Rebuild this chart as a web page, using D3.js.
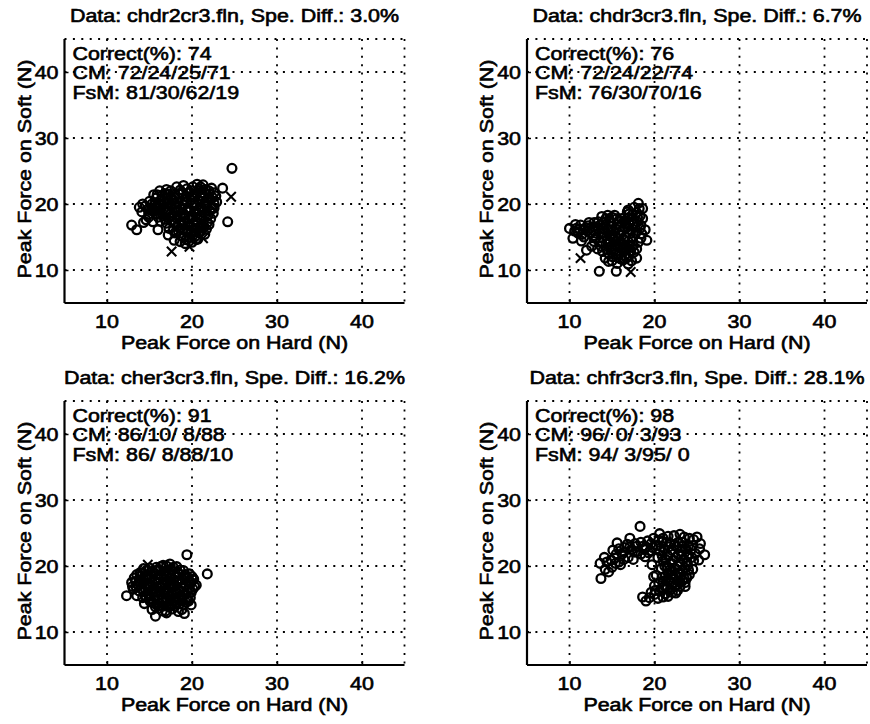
<!DOCTYPE html>
<html>
<head>
<meta charset="utf-8">
<script src="https://cdn.jsdelivr.net/npm/d3@7"></script>
<style>
  html, body { margin: 0; padding: 0; background: #fff; }
  svg text { font-family: "Liberation Sans", Arial, Helvetica, sans-serif; white-space: pre; fill: #000; }
</style>
</head>
<body>
<svg id="chart" width="870" height="724"></svg>
<script>
// ---------------- data ----------------
const titles = [
  "Data: chdr2cr3.fln, Spe. Diff.: 3.0%",
  "Data: chdr3cr3.fln, Spe. Diff.: 6.7%",
  "Data: cher3cr3.fln, Spe. Diff.: 16.2%",
  "Data: chfr3cr3.fln, Spe. Diff.: 28.1%"
];
const correctPct = ["74", "76", "91", "98"];
const cmValues = ["72/24/25/71", "72/24/22/74", "86/10/ 8/88", "96/ 0/ 3/93"];
const fsmValues = ["81/30/62/19", "76/30/70/16", "86/ 8/88/10", "94/ 3/95/ 0"];
const xLabel = "Peak Force on Hard (N)";
const yLabel = "Peak Force on Soft (N)";
const tickValues = [10, 20, 30, 40];
const axisDomain = [5, 45];

// panel 1 (chdr2cr3)
const p1Circles = [
  [16.8,21.6],[17.5,22.0],[18.6,22.1],[19.4,22.3],[20.1,22.6],[20.8,22.3],[21.6,22.2],[22.3,22.4],[23.6,22.4],
  [15.8,20.9],[16.5,21.3],[17.2,21.5],[18.0,21.4],[18.9,21.6],[19.7,21.8],[20.5,21.6],[21.2,21.7],[22.0,21.5],[22.8,21.2],
  [14.2,20.0],[15.0,20.4],[15.7,20.2],[16.4,20.6],[17.1,20.8],[17.8,20.5],[18.5,20.9],[19.2,20.7],[20.0,21.0],[20.7,20.6],[21.4,20.9],[22.2,20.6],[22.9,20.3],
  [13.8,19.5],[14.5,19.7],[15.3,19.4],[16.0,19.6],[16.7,19.3],[17.5,19.8],[18.2,19.5],[18.9,19.9],[19.6,19.4],[20.3,19.8],[21.0,19.5],[21.7,19.9],[22.4,19.3],
  [14.1,18.8],[14.9,18.5],[15.6,18.9],[16.3,18.4],[17.0,18.7],[17.7,18.3],[18.4,18.8],[19.1,18.4],[19.8,18.9],[20.5,18.5],[21.2,18.8],[21.9,18.3],[22.5,18.6],
  [14.6,17.6],[15.4,17.3],[16.8,17.7],[17.6,17.4],[18.3,17.8],[19.0,17.3],[19.7,17.7],[20.4,17.4],[21.1,17.8],[21.8,17.2],
  [12.9,16.8],[13.5,16.1],[14.3,17.2],[16.0,16.1],[17.3,16.3],[18.2,16.6],[18.9,16.2],[19.6,16.7],[20.3,16.3],[21.0,16.6],[21.7,16.2],
  [17.2,15.3],[18.0,15.6],[18.7,15.2],[19.4,15.7],[20.1,15.3],[20.8,15.6],[21.5,15.4],
  [17.9,14.5],[18.6,14.3],[19.3,14.6],[20.0,14.2],[20.7,14.7],
  [15.2,19.0],[16.1,20.0],[17.3,20.2],[18.0,20.0],[18.7,19.2],[19.4,20.3],[20.1,20.2],[20.8,19.1],[21.5,19.3],
  [19.2,17.9],[20.0,18.2],[20.7,17.1],[19.5,16.0],[18.4,15.9],[20.4,15.1],[21.3,17.0],[19.9,22.0],[21.0,21.2],[17.9,21.0],[16.0,18.0],
  [15.5,21.4],[16.2,22.0],[18.2,22.6],[19.0,22.8],[20.6,23.0],[21.3,22.9],[22.0,22.0],[16.8,20.2],[18.2,20.3],[19.9,20.6],
  [21.8,20.3],[15.6,19.9],[14.8,19.2],[17.2,19.0],[18.6,18.1],[20.3,18.9],[21.6,18.5],[22.2,17.8],[17.3,17.9],[18.8,17.0],
  [20.2,16.9],[21.4,16.5],[19.0,15.0],[20.5,14.6],[19.7,14.9],[17.8,16.0],[22.4,21.0],[15.8,18.5],[14.9,18.0],
  [15.3,20.0],[16.6,19.8],[17.6,20.8],[18.4,21.6],[19.3,21.2],[20.3,21.3],[21.1,21.2],[21.9,20.9],[22.6,20.0],[16.3,19.1],
  [17.9,19.1],[19.4,19.1],[21.1,18.3],[22.1,19.0],[17.5,18.6],[18.9,18.6],[20.6,18.0],[18.0,17.2],[19.5,17.0],[20.9,16.3],
  [18.6,16.3],[19.9,15.6],[21.1,15.9],[19.2,14.0],[20.3,15.9],[22.0,16.9],[16.3,17.4],[17.0,17.1],[15.9,21.4],[17.0,22.2],
  [21.0,22.6],[22.6,21.7],
  [24.7,25.4],[24.2,17.3],[22.6,19.4]
];
const p1Crosses = [
  [17.6,12.8],[19.7,13.5],[21.3,14.8],[24.6,21.1],
  [18.5,18.0],[20.0,19.0],[17.0,19.5],[21.0,20.0],[19.0,16.5],[16.5,18.8]
];

// panel 2 (chdr3cr3)
const p2Circles = [
  [10.0,16.3],[10.4,14.8],[10.7,16.9],[11.0,15.6],[11.3,16.8],[11.7,15.0],[11.9,16.4],[12.3,17.2],[12.5,15.7],[12.9,16.6],
  [13.1,14.9],[13.4,17.3],[10.6,15.9],[11.4,14.4],[12.0,13.0],[12.6,13.6],[13.3,13.2],
  [13.8,18.1],[14.5,18.3],[14.2,16.8],[14.8,17.4],[15.3,18.3],[15.6,16.9],[16.1,17.8],[16.8,18.8],[16.5,16.4],[17.3,17.6],
  [17.9,18.7],[18.1,20.1],[16.9,19.1],[14.0,15.6],[14.7,15.2],[15.2,15.9],[15.9,15.3],[16.6,15.1],[17.2,16.0],[17.8,15.6],
  [18.4,16.8],[18.9,16.1],[19.1,14.5],[18.6,17.8],[18.2,19.3],[17.6,19.5],
  [13.6,14.2],[14.3,14.0],[14.9,13.6],[15.5,14.4],[16.2,13.9],[16.9,14.3],[17.5,13.7],[18.1,14.2],
  [14.6,12.5],[15.2,12.9],[15.8,12.3],[16.4,12.8],[17.0,12.2],[17.6,12.7],[17.9,11.8],
  [15.0,11.4],[15.6,11.0],[16.3,11.5],[16.9,10.9],[14.2,11.8],[13.9,12.8],
  [14.0,17.2],[15.0,16.6],[16.0,16.6],[17.0,17.0],[18.0,17.3],[15.4,15.1],[16.4,14.6],[17.4,14.9],
  [14.4,13.1],[15.7,13.4],[16.7,13.3],[12.8,15.2],[11.6,16.1],
  [11.2,16.2],[12.1,15.9],[12.8,16.0],[13.5,15.7],[13.9,16.3],[12.2,16.7],[14.6,16.1],[15.8,17.4],[16.9,17.9],[17.7,16.5],
  [18.3,18.2],[16.2,16.0],[17.1,15.5],[18.5,15.5],[15.1,14.8],[16.0,14.3],[17.0,13.8],[17.9,13.2],[15.4,13.8],[16.5,12.2],
  [15.1,12.0],[16.0,11.7],[17.3,11.4],[13.4,16.3],[14.4,14.6],[18.6,19.3],
  [10.8,16.3],[11.5,15.4],[12.4,16.3],[12.9,17.2],[13.6,16.8],[14.3,17.8],[15.0,18.0],[15.6,17.8],[16.4,17.4],[17.4,18.4],
  [18.0,18.0],[17.0,18.5],[15.5,16.2],[16.8,16.5],[17.6,17.0],[18.3,16.3],[14.8,14.2],[15.8,14.7],[16.6,13.7],[17.4,14.3],
  [18.4,14.8],[15.0,13.2],[16.2,13.2],[17.2,12.9],[15.4,12.4],[16.7,11.8],[14.6,11.3],[13.7,13.6],[12.9,14.3],[13.9,14.9],
  [13.5,9.8],[15.5,9.8]
];
const p2Crosses = [
  [17.2,9.7],[11.3,11.8],
  [15.0,15.5],[16.5,17.0],[14.0,16.5],[17.5,18.0]
];

// panel 3 (cher3cr3)
const p3Circles = [
  [15.8,19.8],[16.6,20.1],[17.4,20.3],[18.2,19.9],
  [13.9,19.0],[14.6,19.3],[15.3,19.1],[16.0,19.4],[16.8,19.2],[17.5,19.5],[18.3,19.1],[19.0,19.3],[19.7,18.8],
  [13.2,18.2],[13.9,18.5],[14.6,18.1],[15.3,18.4],[16.0,18.0],[16.7,18.5],[17.4,18.1],[18.1,18.4],[18.8,18.0],[19.5,18.3],[20.2,18.0],
  [12.9,17.5],[13.6,17.2],[14.3,17.6],[15.0,17.3],[15.7,17.7],[16.4,17.2],[17.1,17.6],[17.8,17.3],[18.5,17.7],[19.2,17.2],[19.9,17.5],[20.5,17.1],
  [13.1,16.5],[13.8,16.2],[14.5,16.6],[15.2,16.3],[15.9,16.7],[16.6,16.2],[17.3,16.6],[18.0,16.3],[18.7,16.7],[19.4,16.2],[20.1,16.5],
  [13.5,15.5],[14.2,15.2],[14.9,15.6],[15.6,15.3],[16.3,15.7],[17.0,15.2],[17.7,15.6],[18.4,15.3],[19.1,15.6],[19.8,15.2],
  [14.4,14.3],[15.1,14.6],[15.8,14.2],[16.5,14.5],[17.2,14.1],[17.9,14.6],[18.6,14.3],[19.3,14.5],[19.9,14.1],
  [15.3,13.4],[16.1,13.6],[16.9,13.2],[17.7,13.5],[18.4,13.1],[19.1,12.8],
  [14.0,17.9],[15.5,18.9],[17.0,18.7],[18.5,18.8],[14.8,16.9],[16.2,16.9],[17.6,16.9],[19.0,16.9],[15.4,15.9],[16.8,15.9],
  [18.2,15.9],[16.0,14.9],[17.4,14.9],[18.8,14.9],[17.0,20.0],[13.4,16.9],[20.3,16.9],[16.5,13.9],[18.0,13.9],
  [14.3,19.6],[15.0,19.7],[16.3,19.9],[17.8,19.8],[13.5,18.7],[15.0,18.0],[16.4,18.6],[17.8,18.0],[19.2,18.7],[13.4,17.7],
  [14.7,17.1],[16.0,17.4],[17.4,17.2],[18.8,17.4],[20.1,17.9],[14.0,16.6],[15.5,16.5],[17.0,16.4],[18.4,16.5],[19.7,16.6],
  [14.6,15.3],[16.0,15.5],[17.4,15.5],[18.8,15.3],[15.5,14.4],[16.9,14.5],[18.3,14.5],[19.6,14.7],[16.5,13.2],[17.3,13.8],
  [18.8,13.4],[15.7,13.8],
  [14.2,18.9],[15.7,19.3],[17.2,19.0],[18.6,19.4],[13.8,17.6],[15.3,17.6],[16.8,17.9],[18.2,17.6],[19.6,17.8],[14.3,16.1],
  [15.8,16.1],[17.2,16.0],[18.6,16.1],[19.9,16.0],[15.0,15.0],[16.5,15.0],[18.0,15.1],[19.4,15.0],[16.1,14.0],[17.6,14.2],
  [19.0,14.1],[17.0,12.9],[14.7,18.6],[13.0,16.9],[20.0,18.4],
  [19.4,21.7],[21.8,18.8],[12.3,15.5],[15.7,12.4]
];
const p3Crosses = [
  [14.8,20.2],[16.0,17.0],[17.5,18.0],[15.0,16.0],[18.0,15.5]
];

// panel 4 (chfr3cr3)
const p4Circles = [
  [13.6,20.4],[13.7,18.1],[14.6,19.1],[14.4,20.6],[15.0,19.8],[15.3,21.2],[15.1,22.4],[15.6,23.5],[15.8,20.6],[16.2,21.8],
  [16.5,22.8],[16.9,21.3],[17.1,24.2],[17.3,22.5],[17.7,23.4],[18.0,22.2],[18.3,26.0],[18.4,23.6],[18.8,22.5],[19.2,23.8],
  [19.5,22.3],[19.9,24.2],[20.2,23.1],[20.6,24.9],[20.9,23.8],[21.2,22.6],[21.6,24.5],[21.9,23.4],[22.3,24.6],[22.6,22.9],
  [23.0,24.8],[23.3,23.6],[23.7,22.6],[24.1,24.2],[24.5,23.1],[25.0,24.4],[25.3,22.6],[25.9,21.7],[16.0,20.2],[17.5,21.0],
  [18.9,21.4],[14.1,21.3],
  [19.7,20.2],[20.4,21.3],[21.0,20.8],[21.6,21.5],[22.2,20.9],[22.8,21.7],[23.4,21.0],[24.0,21.6],[24.6,20.8],[25.2,20.9],
  [20.8,19.6],[21.5,19.9],[22.1,19.3],[22.7,20.0],[23.3,19.4],[23.9,20.1],[24.5,19.5],
  [20.2,18.6],[20.9,18.3],[21.6,18.9],[22.2,18.2],[22.9,18.8],[23.5,18.1],[24.1,18.7],[19.9,18.4],
  [20.5,17.4],[21.2,17.0],[21.8,17.6],[22.4,16.9],[23.0,17.5],[23.6,16.9],
  [20.6,16.2],[21.3,15.8],[21.9,16.4],[22.5,15.9],[23.0,16.9],[18.6,15.3],[19.0,14.7],[20.4,15.1],[19.6,16.0],[20.0,17.0],
  [14.2,19.5],[15.4,20.4],[16.4,21.0],[15.8,22.6],[16.8,23.3],[17.7,22.1],[18.4,21.8],[19.0,22.9],[19.6,23.4],[20.6,22.3],
  [20.5,23.9],[21.4,23.6],[22.0,22.4],[22.8,23.6],[23.5,24.4],[24.3,22.5],[24.8,21.9],[23.1,22.2],[21.3,21.0],[22.5,21.3],
  [23.8,20.6],[21.2,20.0],[22.4,19.7],[23.6,19.7],[21.3,18.5],[22.5,18.6],[23.8,18.2],[21.0,17.7],[22.2,17.4],[23.3,17.8],
  [21.5,16.6],[22.7,16.3],[20.0,15.7],[19.4,15.2],[21.0,15.3],
  [14.9,20.9],[15.5,21.8],[16.4,22.1],[17.1,22.9],[17.9,23.0],[18.6,23.0],[19.3,22.0],[19.8,22.8],[21.0,24.2],[21.7,22.9],
  [22.4,23.2],[23.2,23.0],[24.0,23.1],[24.6,24.0],[25.4,23.4],[24.4,21.3],[23.0,20.5],[22.0,20.4],[20.9,21.6],[23.2,21.5],
  [21.8,19.4],[23.0,19.0],[24.0,19.4],[22.0,18.7],[23.1,18.3],[21.6,17.9],[22.7,17.8],[20.9,16.7],[22.1,16.0],[23.6,17.5],
  [20.1,16.3],[21.6,15.4]
];
const p4Crosses = [
  [22.0,19.0],[21.0,23.0]
];

const circleSets = [p1Circles, p2Circles, p3Circles, p4Circles];
const crossSets = [p1Crosses, p2Crosses, p3Crosses, p4Crosses];

// ---------------- layout ----------------
const panelLeft = [64.5, 527, 64.5, 527];
const panelBottom = [303, 303, 665, 665];
const plotW = 340, plotH = 264;
const fontSize = 18, stretch = 1.19;
const dotDash = "2,6.4";

const svg = d3.select("#chart");

function addText(g, str, x, y, anchor, rotate) {
  return g.append("text")
    .attr("transform", `translate(${x},${y})` + (rotate ? ` rotate(${rotate})` : "") + ` scale(${stretch},1)`)
    .attr("text-anchor", anchor)
    .attr("font-size", fontSize)
    .attr("stroke", "#000")
    .attr("stroke-width", 0.6)
    .text(str);
}

function dotted(g, x1, y1, x2, y2) {
  g.append("line").attr("x1", x1).attr("y1", y1).attr("x2", x2).attr("y2", y2)
    .attr("stroke", "#000").attr("stroke-width", 1.8).attr("stroke-dasharray", dotDash);
}

for (let i = 0; i < 4; i++) {
  const L = panelLeft[i], B = panelBottom[i];
  const x = d3.scaleLinear().domain(axisDomain).range([L, L + plotW]);
  const y = d3.scaleLinear().domain(axisDomain).range([B, B - plotH]);
  const g = svg.append("g");

  // dotted grid + dotted top/right frame
  const gridG = g.append("g");
  tickValues.forEach(v => {
    dotted(gridG, x(v), y(axisDomain[1]), x(v), y(axisDomain[0]));
    dotted(gridG, x(axisDomain[0]), y(v), x(axisDomain[1]), y(v));
  });
  dotted(gridG, x(axisDomain[0]), y(axisDomain[1]), x(axisDomain[1]), y(axisDomain[1]));
  dotted(gridG, x(axisDomain[1]), y(axisDomain[1]), x(axisDomain[1]), y(axisDomain[0]));

  // axes
  const xAxis = d3.axisBottom(x).tickValues(tickValues).tickSize(-4).tickFormat("");
  const yAxis = d3.axisLeft(y).tickValues(tickValues).tickSize(-4).tickFormat("");
  const gx = g.append("g").attr("transform", `translate(0,${B})`).call(xAxis);
  const gy = g.append("g").attr("transform", `translate(${L},0)`).call(yAxis);
  [gx, gy].forEach(a => {
    a.select(".domain").attr("stroke", "#000").attr("stroke-width", 2.2);
    a.selectAll(".tick line").attr("stroke", "#000").attr("stroke-width", 1.5);
  });
  gx.select(".domain").attr("d", `M${L},0H${L + plotW}`);
  gy.select(".domain").attr("d", `M0,${B}V${B - plotH}`);

  // tick labels
  tickValues.forEach(v => {
    addText(g, String(v), x(v), B + 25, "middle");
    addText(g, String(v), L - 6, y(v) + 6.5, "end");
  });

  // axis titles
  addText(g, xLabel, L + plotW / 2, B + 46, "middle");
  addText(g, yLabel, L - 34, B - plotH / 2 - 2, "middle", -90);

  // panel title
  addText(g, titles[i], L + plotW / 2, B - plotH - 17, "middle");

  // markers
  const mg = g.append("g");
  mg.selectAll("circle").data(circleSets[i]).join("circle")
    .attr("cx", d => x(d[0])).attr("cy", d => y(d[1])).attr("r", 4.4)
    .attr("fill", "none").attr("stroke", "#000").attr("stroke-width", 2.3);
  const s = 4.7;
  mg.selectAll("path.cross").data(crossSets[i]).join("path").attr("class", "cross")
    .attr("d", d => `M${x(d[0]) - s},${y(d[1]) - s}L${x(d[0]) + s},${y(d[1]) + s}M${x(d[0]) - s},${y(d[1]) + s}L${x(d[0]) + s},${y(d[1]) - s}`)
    .attr("fill", "none").attr("stroke", "#000").attr("stroke-width", 2.1);

  // annotation text
  const T = B - plotH;
  addText(g, "Correct(%): " + correctPct[i], L + 8, T + 20.5, "start");
  addText(g, "CM: " + cmValues[i], L + 8, T + 40, "start");
  addText(g, "FsM: " + fsmValues[i], L + 8, T + 59.5, "start");
}
</script>
</body>
</html>
